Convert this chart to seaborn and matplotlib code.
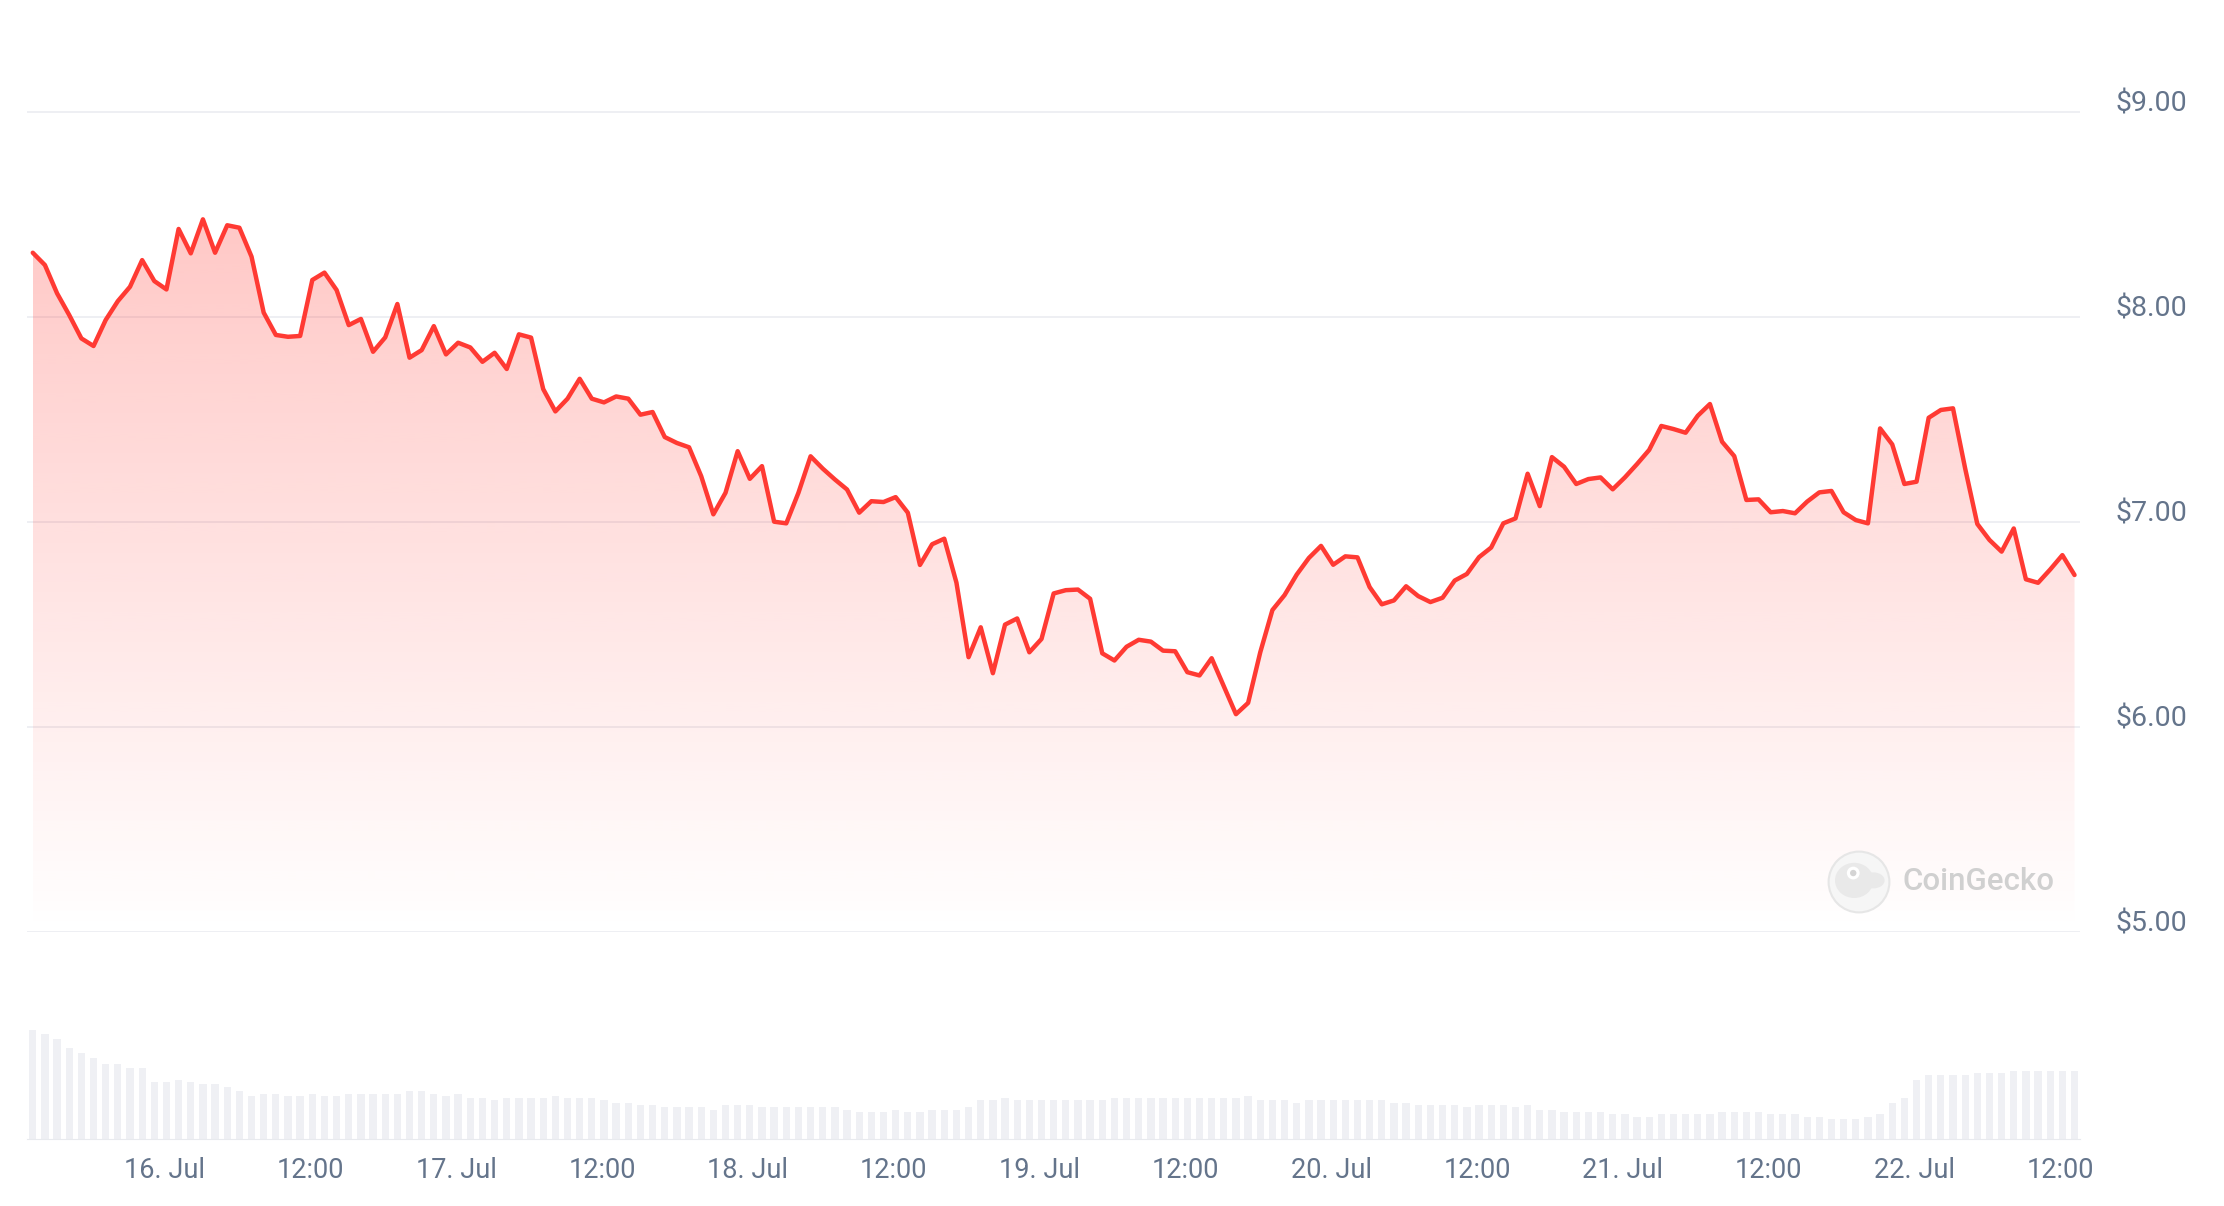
import numpy as np
import pandas as pd
import matplotlib
matplotlib.use("Agg")
import matplotlib.pyplot as plt
import matplotlib.dates as mdates
from matplotlib.colors import to_rgb
from matplotlib.patches import Circle, Ellipse
import seaborn as sns

# ---------------- data (hourly) ----------------
start_time = "2024-07-15 13:10"

price = [
    8.312, 8.252, 8.114, 8.008, 7.894, 7.857, 7.984, 8.076, 8.146, 8.276,
    8.174, 8.133, 8.428, 8.309, 8.475, 8.312, 8.446, 8.434, 8.293, 8.020,
    7.911, 7.902, 7.906, 8.179, 8.215, 8.130, 7.959, 7.989, 7.829, 7.899,
    8.062, 7.800, 7.837, 7.954, 7.816, 7.873, 7.850, 7.780, 7.824, 7.745,
    7.914, 7.898, 7.647, 7.538, 7.600, 7.697, 7.600, 7.582, 7.611, 7.600,
    7.522, 7.535, 7.413, 7.384, 7.363, 7.222, 7.036, 7.141, 7.344, 7.209,
    7.271, 7.000, 6.992, 7.141, 7.319, 7.259, 7.206, 7.157, 7.044, 7.100,
    7.096, 7.120, 7.044, 6.789, 6.890, 6.917, 6.703, 6.339, 6.485, 6.261,
    6.498, 6.528, 6.363, 6.428, 6.650, 6.666, 6.669, 6.624, 6.358, 6.323,
    6.390, 6.424, 6.415, 6.371, 6.368, 6.266, 6.250, 6.334, 6.197, 6.061,
    6.116, 6.363, 6.569, 6.642, 6.742, 6.823, 6.882, 6.790, 6.831, 6.826,
    6.681, 6.597, 6.616, 6.685, 6.637, 6.608, 6.629, 6.713, 6.745, 6.827,
    6.874, 6.992, 7.016, 7.234, 7.076, 7.315, 7.268, 7.184, 7.208, 7.216,
    7.158, 7.216, 7.281, 7.350, 7.467, 7.452, 7.434, 7.517, 7.574, 7.390,
    7.320, 7.106, 7.109, 7.046, 7.052, 7.041, 7.098, 7.143, 7.150, 7.046,
    7.008, 6.992, 7.455, 7.377, 7.184, 7.195, 7.507, 7.545, 7.553, 7.260,
    6.989, 6.911, 6.854, 6.967, 6.719, 6.702, 6.767, 6.837, 6.740,
]

volume = [
    32.7, 31.4, 30.0, 27.2, 25.8, 24.3, 22.5, 22.5, 21.1, 21.1,
    17.0, 17.0, 17.6, 17.0, 16.3, 16.3, 15.6, 14.2, 12.8, 13.5,
    13.5, 12.8, 12.8, 13.5, 12.8, 12.8, 13.5, 13.5, 13.5, 13.5,
    13.5, 14.2, 14.2, 13.5, 12.8, 13.5, 12.1, 12.1, 11.5, 12.1,
    12.1, 12.1, 12.1, 12.8, 12.1, 12.1, 12.1, 11.5, 10.8, 10.8,
    10.1, 10.1, 9.4, 9.4, 9.4, 9.4, 8.7, 10.1, 10.1, 10.1,
    9.4, 9.4, 9.4, 9.4, 9.4, 9.4, 9.4, 8.7, 8.0, 8.0,
    8.0, 8.7, 8.0, 8.0, 8.7, 8.7, 8.7, 9.4, 11.5, 11.5,
    12.1, 11.5, 11.5, 11.5, 11.5, 11.5, 11.5, 11.5, 11.5, 12.1,
    12.1, 12.1, 12.1, 12.1, 12.1, 12.1, 12.1, 12.1, 12.1, 12.1,
    12.8, 11.5, 11.5, 11.5, 10.8, 11.5, 11.5, 11.5, 11.5, 11.5,
    11.5, 11.5, 10.8, 10.8, 10.1, 10.1, 10.1, 10.1, 9.4, 10.1,
    10.1, 10.1, 9.4, 10.1, 8.7, 8.7, 8.0, 8.0, 8.0, 8.0,
    7.3, 7.3, 6.6, 6.6, 7.3, 7.3, 7.3, 7.3, 7.3, 8.0,
    8.0, 8.0, 8.0, 7.3, 7.3, 7.3, 6.6, 6.6, 5.9, 5.9,
    5.9, 6.6, 7.3, 10.8, 12.1, 17.6, 19.0, 19.0, 19.0, 19.0,
    19.7, 19.7, 19.7, 20.4, 20.4, 20.4, 20.4, 20.4, 20.4,
]

tick_start = "2024-07-16 00:00"
tick_labels = ["16. Jul", "12:00", "17. Jul", "12:00", "18. Jul", "12:00",
               "19. Jul", "12:00", "20. Jul", "12:00", "21. Jul", "12:00",
               "22. Jul", "12:00"]
price_ticks = [5, 6, 7, 8, 9]

# ---------------- styling ----------------
RED = "#FF3A33"
GRID = "#EEEFF3"
BAR = "#EFF0F4"
TEXT = "#64748B"

times = pd.date_range(start_time, periods=len(price), freq="h")
df = pd.DataFrame({"time": times, "price": price, "volume": volume})
tick_times = pd.date_range(tick_start, periods=len(tick_labels), freq="12h")

sns.set_theme(style="white")
plt.rcParams["font.family"] = ["Roboto", "DejaVu Sans"]

W, H = 2224, 1206
fig = plt.figure(figsize=(W / 100, H / 100), dpi=100)
fig.patch.set_facecolor("white")

left, width = 27.3 / W, 2052.7 / W
ax = fig.add_axes([left, 1 - 931.7 / H, width, (931.7 - 60.45) / H])
axv = fig.add_axes([left, 1 - 1138.5 / H, width, 138.5 / H], sharex=ax)

pad = pd.Timedelta(minutes=27)
xlim = (times[0] - pad, times[-1] + pad)

# ---- price line with gradient fill ----
sns.lineplot(data=df, x="time", y="price", ax=ax, color=RED,
             linewidth=3.2, zorder=4)
poly = ax.fill_between(df["time"], df["price"], 5, color="none", lw=0)
xnum = mdates.date2num(times)
grad = np.zeros((256, 1, 4))
grad[:, :, :3] = to_rgb(RED)
grad[:, 0, 3] = np.linspace(0.0, 0.28, 256)
im = ax.imshow(grad, extent=[xnum[0], xnum[-1], 5, max(price)],
               origin="lower", aspect="auto", zorder=2, interpolation="bilinear")
im.set_clip_path(poly.get_paths()[0], transform=ax.transData)

ax.set_xlim(xlim)
ax.set_ylim(5, 9.25)
ax.set_yticks(price_ticks)
ax.yaxis.set_major_formatter(lambda v, p: f"${v:.2f}")
ax.yaxis.tick_right()
ax.tick_params(axis="y", length=0, pad=25.5, labelsize=20.5, labelcolor=TEXT)
for lab in ax.get_yticklabels():
    lab.set_verticalalignment("baseline")
ax.yaxis.grid(True, color=GRID, lw=1.4)
ax.set_axisbelow(True)
ax.tick_params(axis="x", bottom=False, labelbottom=False)
ax.set_xlabel("")
ax.set_ylabel("")
for s in ax.spines.values():
    s.set_visible(False)

# ---- volume bars ----
axv.bar(df["time"], df["volume"], width=0.6 / 24, color=BAR, lw=0, zorder=2)
axv.set_ylim(0, 32.7 * 138.5 / 109)
axv.set_yticks([])
axv.set_xticks(tick_times)
axv.set_xticklabels(tick_labels)
axv.tick_params(axis="x", length=15, width=0.8, color="#E5E7EB", pad=-1.5,
                labelsize=19.5, labelcolor=TEXT)
for k, s in axv.spines.items():
    s.set_visible(k == "bottom")
axv.spines["bottom"].set_color("#E8EAEE")
axv.spines["bottom"].set_linewidth(0.8)
axv.set_xlim(xlim)
axv.set_facecolor("none")
axv.set_xlabel("")

# ---- CoinGecko watermark ----
cx, cy = 1859 / W, 1 - 882 / H
wm = fig.add_axes([cx - 32 / W, cy - 32 / H, 64 / W, 64 / H])
wm.set_xlim(-1, 1)
wm.set_ylim(-1, 1)
wm.axis("off")
wm.add_patch(Circle((0, 0), 0.95, facecolor="#F6F6F6", edgecolor="#E6E6E6", lw=1.5))
wm.add_patch(Ellipse((-0.15, 0.05), 1.2, 1.1, facecolor="#E9E9E9", lw=0))
wm.add_patch(Ellipse((0.45, 0.05), 0.7, 0.5, facecolor="#E9E9E9", lw=0))
wm.add_patch(Circle((-0.18, 0.28), 0.2, facecolor="white", lw=0))
wm.add_patch(Circle((-0.18, 0.28), 0.1, facecolor="#D4D4D4", lw=0))
fig.text(1902 / W, 1 - 882 / H, "CoinGecko", fontsize=22.5, color="#D0D0D0",
         fontweight="medium", ha="left", va="center")

fig.savefig("out.png", dpi=100, facecolor="white")
